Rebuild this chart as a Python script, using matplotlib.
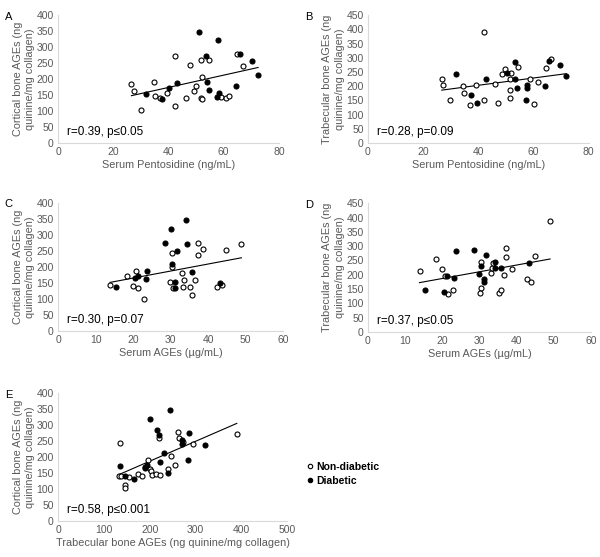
import numpy as np
import matplotlib.pyplot as plt
from matplotlib.lines import Line2D

plt.rcParams['font.family'] = ['Liberation Sans', 'DejaVu Sans']

# ---- data (nd = non-diabetic, d = diabetic) ----
# A: serum pentosidine vs cortical bone AGEs
a_x_nd = [26.6, 27.6, 30.0, 34.9, 35.1, 37.0, 39.5, 42.5, 42.5, 46.5, 47.7, 49.1,
          50.1, 51.7, 51.7, 52.2, 52.3, 54.7, 59.1, 60.8, 61.8, 64.7, 66.9]
a_y_nd = [185, 162, 104, 191, 148, 140, 156, 273, 115, 142, 245, 164,
          178, 260, 142, 138, 205, 259, 145, 142, 147, 279, 240]
a_x_d = [32.0, 37.5, 40.1, 43.0, 51.1, 53.6, 53.9, 54.6, 58.1, 58.5, 57.7, 64.5, 66.1, 70.2, 72.5]
a_y_d = [154, 137, 172, 189, 348, 272, 191, 166, 322, 158, 143, 177, 277, 255, 214]

# B: serum pentosidine vs trabecular bone AGEs
b_x_nd = [26.8, 27.3, 29.7, 34.6, 34.9, 36.9, 39.2, 42.1, 42.1, 46.1, 47.3, 48.6,
          49.8, 51.4, 51.8, 51.4, 51.7, 54.5, 58.8, 60.2, 61.6, 64.5, 66.3]
b_y_nd = [227, 203, 150, 199, 177, 135, 206, 392, 150, 207, 140, 244,
          259, 227, 248, 187, 157, 268, 224, 138, 216, 264, 297]
b_x_d = [31.9, 37.4, 39.6, 42.7, 50.6, 53.4, 53.3, 54.1, 57.7, 57.7, 57.4, 64.1, 65.6, 69.7, 71.9]
b_y_d = [244, 168, 140, 227, 248, 286, 224, 192, 203, 192, 150, 200, 289, 274, 235]

# C: serum AGEs vs cortical bone AGEs
c_x_nd = [13.9, 18.4, 20.9, 20.0, 21.3, 22.8, 29.9, 30.7, 30.3, 30.4, 33.1, 33.6,
          33.2, 35.3, 35.6, 36.4, 37.2, 37.2, 38.7, 42.5, 43.8, 44.7, 48.9]
c_y_nd = [143, 172, 187, 141, 135, 99, 151, 133, 242, 200, 181, 159,
          138, 136, 111, 158, 275, 237, 255, 136, 143, 254, 271]
c_x_d = [15.4, 20.6, 21.3, 23.4, 23.8, 28.4, 30.0, 30.4, 31.2, 31.3, 31.6, 34.2, 34.3, 35.7, 43.2]
c_y_d = [137, 165, 171, 161, 187, 275, 319, 210, 133, 153, 250, 345, 270, 185, 150]

# D: serum AGEs vs trabecular bone AGEs
d_x_nd = [13.9, 18.3, 19.9, 20.8, 21.5, 22.8, 30.4, 30.5, 30.2, 33.1, 33.3, 33.7,
          35.4, 35.8, 36.6, 37.2, 37.2, 38.8, 42.7, 43.9, 45.0, 49.0]
d_y_nd = [213, 254, 221, 196, 134, 146, 245, 154, 138, 205, 222, 240,
          136, 146, 201, 292, 261, 221, 184, 175, 265, 389]
d_x_d = [15.4, 20.6, 21.4, 23.3, 23.8, 28.6, 30.0, 30.4, 31.7, 31.2, 31.2, 34.3, 34.3, 35.9, 43.3]
d_y_d = [147, 139, 196, 188, 282, 286, 202, 231, 270, 187, 175, 245, 222, 222, 242]

# E: trabecular vs cortical bone AGEs
e_x_nd = [132, 137, 136, 147, 147, 154, 175, 184, 196, 201, 203, 205,
          214, 222, 221, 240, 246, 255, 262, 265, 272, 294, 390]
e_y_nd = [139, 140, 244, 114, 102, 137, 146, 139, 192, 162, 156, 144,
          146, 144, 259, 162, 203, 174, 278, 258, 248, 239, 271]
e_x_d = [136, 147, 165, 190, 190, 195, 201, 217, 221, 223, 231, 241, 245, 271, 271, 283, 286, 321]
e_y_d = [172, 139, 132, 164, 170, 175, 320, 283, 268, 184, 212, 151, 348, 253, 240, 189, 276, 236]

ylab_cort = 'Cortical bone AGEs (ng\nquinine/mg collagen)'
ylab_trab = 'Trabecular bone AGEs (ng\nquinine/mg collagen)'

panels = [
    # letter, x_nd, y_nd, x_d, y_d, xlabel, ylabel, xmax, xstep, ymax, stats, rect
    ('A', a_x_nd, a_y_nd, a_x_d, a_y_d, 'Serum Pentosidine (ng/mL)', ylab_cort,
     80, 20, 400, 'r=0.39, p\u22640.05', [0.0967, 0.743, 0.368, 0.230]),
    ('B', b_x_nd, b_y_nd, b_x_d, b_y_d, 'Serum Pentosidine (ng/mL)', ylab_trab,
     80, 20, 450, 'r=0.28, p=0.09', [0.613, 0.743, 0.368, 0.230]),
    ('C', c_x_nd, c_y_nd, c_x_d, c_y_d, 'Serum AGEs (\u00b5g/mL)', ylab_cort,
     60, 10, 400, 'r=0.30, p=0.07', [0.0967, 0.406, 0.375, 0.230]),
    ('D', d_x_nd, d_y_nd, d_x_d, d_y_d, 'Serum AGEs (\u00b5g/mL)', ylab_trab,
     60, 10, 450, 'r=0.37, p\u22640.05', [0.613, 0.404, 0.372, 0.231]),
    ('E', e_x_nd, e_y_nd, e_x_d, e_y_d, 'Trabecular bone AGEs (ng quinine/mg collagen)', ylab_cort,
     500, 100, 400, 'r=0.58, p\u22640.001', [0.0967, 0.0646, 0.382, 0.230]),
]

grey = '#595959'
fig = plt.figure(figsize=(6, 5.57), dpi=100)

for letter, xn, yn, xd, yd, xlab, ylab, xmax, xstep, ymax, stats, rect in panels:
    ax = fig.add_axes(rect)
    ax.scatter(xn, yn, s=13, facecolors='white', edgecolors='black', linewidths=0.8, zorder=3)
    ax.scatter(xd, yd, s=13, facecolors='black', edgecolors='black', linewidths=0.8, zorder=3)

    # linear trend line over all points
    xs = np.array(xn + xd, dtype=float)
    ys = np.array(yn + yd, dtype=float)
    k, b = np.polyfit(xs, ys, 1)
    xl = np.array([xs.min(), xs.max()])
    ax.plot(xl, k * xl + b, color='black', lw=0.8, zorder=2)

    ax.set_xlim(0, xmax)
    ax.set_ylim(0, ymax)
    ax.set_xticks(np.arange(0, xmax + 1, xstep))
    ax.set_yticks(np.arange(0, ymax + 1, 50))
    ax.tick_params(length=0, labelsize=7.5, colors=grey, pad=3)
    for side in ['top', 'right']:
        ax.spines[side].set_visible(False)
    for side in ['left', 'bottom']:
        ax.spines[side].set_color('#d9d9d9')
        ax.spines[side].set_linewidth(0.8)
    ax.set_xlabel(xlab, fontsize=7.8, color=grey, labelpad=2)
    ax.set_ylabel(ylab, fontsize=7.8, color=grey, labelpad=1, linespacing=1.3)
    ax.text(0.04, 0.06, stats, transform=ax.transAxes, fontsize=8.5, color='black')

    # panel letter in the top-left corner of its column
    pos = ax.get_position()
    lx = 0.008 if pos.x0 < 0.5 else 0.508
    fig.text(lx, pos.y1 - 0.003, letter, fontsize=8, va='center', ha='left')

handles = [
    Line2D([], [], ls='none', marker='o', ms=3.2, mfc='white', mec='black', mew=0.8),
    Line2D([], [], ls='none', marker='o', ms=3.2, mfc='black', mec='black', mew=0.8),
]
fig.legend(handles, ['Non-diabetic', 'Diabetic'], loc='upper left',
           bbox_to_anchor=(0.493, 0.188), frameon=False, handletextpad=0.1,
           handlelength=1.0, labelspacing=0.4, prop={'size': 7.5, 'weight': 'bold'})

fig.savefig('out.png', dpi=100)
